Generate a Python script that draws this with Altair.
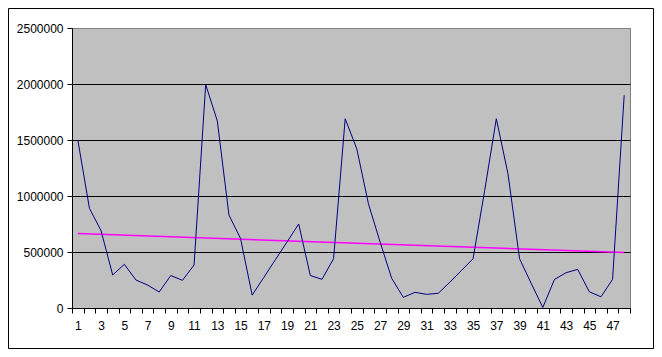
import altair as alt
import pandas as pd

periods = list(range(1, 49))
values = [1500000, 890000, 690000, 295000, 390000, 250000, 205000, 143000, 290000, 247000,
          384000, 1995000, 1670000, 830000, 620000, 115000, 273000, 432000, 590000, 750000,
          290000, 256000, 440000, 1690000, 1420000, 930000, 590000, 265000, 95000, 140000,
          122000, 131000, 230000, 335000, 440000, 1050000, 1690000, 1200000, 440000, 220000,
          5000, 255000, 315000, 345000, 145000, 100000, 256000, 1900000]
y_ticks = [0, 500000, 1000000, 1500000, 2000000, 2500000]

df = pd.DataFrame({"period": periods, "value": values})

FONT = "Liberation Sans"

x_enc = alt.X(
    "period:O",
    scale=alt.Scale(type="band", domain=periods, paddingInner=0, paddingOuter=0),
    bandPosition=0.5,
    title=None,
    axis=alt.Axis(
        labelAngle=0,
        labelExpr="datum.value % 2 == 1 ? datum.label : ''",
        tickBand="extent",
        grid=False,
        domainColor="black",
        tickColor="black",
        tickSize=5,
        labelPadding=7,
        labelFont=FONT,
        labelFontSize=12,
        labelColor="black",
    ),
)

y_enc = alt.Y(
    "value:Q",
    scale=alt.Scale(domain=[0, 2500000], nice=False),
    title=None,
    axis=alt.Axis(
        values=y_ticks,
        format="d",
        grid=True,
        gridColor={"condition": {"test": "datum.value >= 2500000", "value": "#808080"}, "value": "#000000"},
        gridWidth=1,
        gridOpacity=1,
        domainColor="black",
        tickColor="black",
        tickSize=5,
        labelPadding=4,
        labelFont=FONT,
        labelFontSize=12,
        labelColor="black",
    ),
)

base = alt.Chart(df)

trend = base.transform_regression("period", "value").mark_line(
    color="#FF00FF", strokeWidth=1.5
).encode(x=x_enc, y=y_enc)

line = base.mark_line(color="#000080", strokeWidth=1).encode(x=x_enc, y=y_enc)

border = alt.Chart(alt.Data(values=[{}])).mark_rect(
    fillOpacity=0, stroke="black", strokeWidth=1
).encode(
    x=alt.value(-63.5), x2=alt.value(581.5), y=alt.value(-19.5), y2=alt.value(320.5)
)

chart = alt.layer(trend, line, border).properties(
    width=558,
    height=280,
    padding={"left": 64, "top": 20, "right": 24, "bottom": 41},
    autosize=alt.AutoSizeParams(type="none"),
    background="white",
).configure_view(
    fill="#C0C0C0", stroke="#808080", strokeWidth=1
)

chart.save("out.html", embed_options={"renderer": "svg", "actions": False})
